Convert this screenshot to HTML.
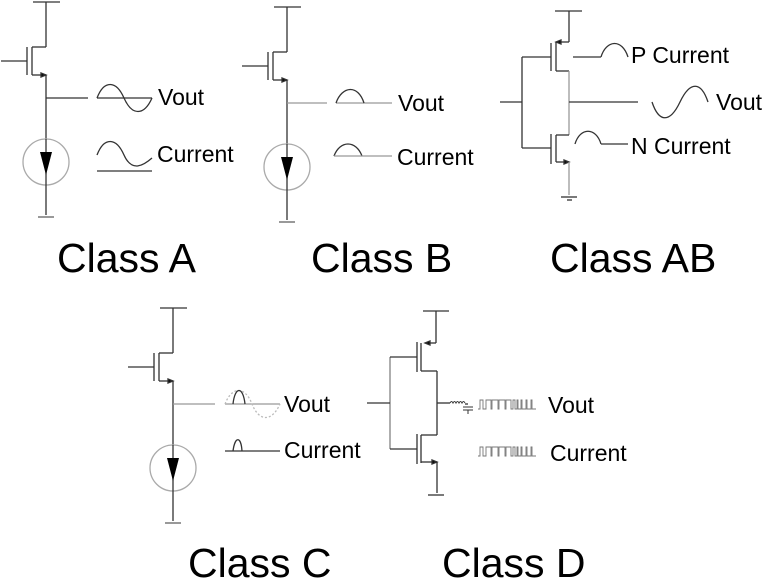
<!DOCTYPE html>
<html><head><meta charset="utf-8"><style>
html,body{margin:0;padding:0;background:#fff;}
svg{display:block;}
text{font-family:"Liberation Sans",sans-serif;fill:#000;}
</style></head><body>
<svg width="762" height="580" viewBox="0 0 762 580" xmlns="http://www.w3.org/2000/svg">
<defs>
<g id="nmos" stroke="#333" stroke-width="1.3" fill="none">
 <line x1="-13" y1="-45" x2="14" y2="-45"/>
 <line x1="0" y1="-45" x2="0" y2="0"/>
 <line x1="-14" y1="0" x2="0" y2="0"/>
 <line x1="-14" y1="0" x2="-14" y2="28"/>
 <line x1="-19" y1="0" x2="-19" y2="28"/>
 <line x1="-45" y1="14" x2="-19" y2="14"/>
 <line x1="-14" y1="28" x2="0" y2="28"/>
 <polygon points="0,28 -5,26 -5,30" fill="#000"/>
 <line x1="0" y1="28" x2="0" y2="92"/>
 <circle cx="0" cy="115" r="23" stroke="#aaa"/>
 <line x1="0" y1="92" x2="0" y2="138"/>
 <polygon points="-6,105 6,105 0,128" fill="#000" stroke="none"/>
 <line x1="0" y1="138" x2="0" y2="168"/>
 <line x1="-8" y1="170" x2="8" y2="170" stroke="#999" stroke-width="2"/>
</g>
</defs>

<!-- Class A -->
<use href="#nmos" x="46" y="47"/>
<g stroke="#333" stroke-width="1.3" fill="none">
 <line x1="46" y1="98" x2="88" y2="98"/>
 <line x1="97" y1="98" x2="152" y2="98"/>
 <path d="M97,98 C104,80 116,80 124,98 C132,116 144,116 152,98"/>
 <path d="M97,155 C104,137 116,137 124,155 C132,173 144,165 152,158"/>
 <line x1="97" y1="171" x2="152" y2="171"/>
</g>
<text x="158" y="105" font-size="23">Vout</text>
<text x="157" y="162" font-size="23">Current</text>
<text x="57" y="272" font-size="41">Class A</text>

<!-- Class B -->
<use href="#nmos" x="287" y="52"/>
<g stroke="#333" stroke-width="1.3" fill="none">
 <line x1="287" y1="103" x2="327" y2="103" stroke="#999"/>
 <line x1="336" y1="103" x2="392" y2="103" stroke="#999"/>
 <path d="M336,103 C342,86 358,84 364,103"/>
 <path d="M334,156 C340,140 356,140 362,156"/>
 <line x1="334" y1="156" x2="392" y2="156" stroke="#999"/>
</g>
<text x="398" y="111" font-size="23">Vout</text>
<text x="397" y="165" font-size="23">Current</text>
<text x="311" y="272" font-size="41">Class B</text>

<!-- Class AB -->
<g stroke="#333" stroke-width="1.3" fill="none">
 <line x1="555" y1="11" x2="582" y2="11"/>
 <line x1="569" y1="11" x2="569" y2="42"/>
 <line x1="557" y1="42" x2="569" y2="42"/>
 <polygon points="556,42 561,40 561,44" fill="#000"/>
 <line x1="556" y1="42" x2="556" y2="71"/>
 <line x1="551" y1="43" x2="551" y2="71"/>
 <line x1="556" y1="71" x2="569" y2="71"/>
 <line x1="569" y1="71" x2="569" y2="135" stroke="#999"/>
 <line x1="569" y1="102" x2="638" y2="102"/>
 <path d="M652,102 C659,123 670,123 680,102 C690,81 701,81 708,102"/>
 <line x1="556" y1="135" x2="569" y2="135"/>
 <line x1="556" y1="135" x2="556" y2="162"/>
 <line x1="551" y1="134" x2="551" y2="164"/>
 <line x1="556" y1="162" x2="569" y2="162"/>
 <polygon points="569,162 564,160 564,164" fill="#000"/>
 <line x1="569" y1="162" x2="569" y2="195" stroke="#999"/>
 <line x1="561" y1="197" x2="577" y2="197"/>
 <line x1="567" y1="200" x2="572" y2="200"/>
 <line x1="522" y1="57" x2="522" y2="148"/>
 <line x1="522" y1="57" x2="551" y2="57"/>
 <line x1="522" y1="148" x2="551" y2="148"/>
 <line x1="500" y1="102" x2="522" y2="102"/>
 <line x1="573" y1="57" x2="601" y2="57"/>
 <path d="M601,57 C606,40 622,38 628,57"/>
 <path d="M575,144 C580,127 596,127 601,144"/>
 <line x1="601" y1="144" x2="628" y2="144"/>
</g>
<text x="631" y="63" font-size="23">P Current</text>
<text x="716" y="110" font-size="23">Vout</text>
<text x="631" y="154" font-size="23">N Current</text>
<text x="550" y="272" font-size="41">Class AB</text>

<!-- Class C -->
<use href="#nmos" x="173" y="353"/>
<g stroke="#333" stroke-width="1.3" fill="none">
 <line x1="173" y1="404" x2="215" y2="404" stroke="#999"/>
 <line x1="225" y1="404" x2="280" y2="404" stroke="#999"/>
 <path d="M225,404 C232,386 245,386 252,404 C259,422 272,422 280,404" stroke="#bbb" stroke-dasharray="2,2"/>
 <path d="M233,404 C235,386 243,386 245,404"/>
 <line x1="225" y1="451" x2="280" y2="451"/>
 <path d="M233,451 C235,436 241,436 242,451"/>
</g>
<text x="284" y="412" font-size="23">Vout</text>
<text x="284" y="458" font-size="23">Current</text>
<text x="188" y="577" font-size="41">Class C</text>

<!-- Class D -->
<g stroke="#333" stroke-width="1.3" fill="none">
 <line x1="423" y1="311" x2="449" y2="311"/>
 <line x1="436" y1="311" x2="436" y2="343"/>
 <line x1="426" y1="343" x2="436" y2="343"/>
 <polygon points="425,343 430,341 430,345" fill="#000"/>
 <line x1="421" y1="343" x2="421" y2="371"/>
 <line x1="417" y1="342" x2="417" y2="372"/>
 <line x1="421" y1="371" x2="437" y2="371"/>
 <line x1="437" y1="371" x2="437" y2="435"/>
 <line x1="421" y1="435" x2="437" y2="435"/>
 <line x1="421" y1="435" x2="421" y2="463"/>
 <line x1="417" y1="434" x2="417" y2="464"/>
 <line x1="421" y1="462" x2="437" y2="462"/>
 <polygon points="437,462 432,460 432,464" fill="#000"/>
 <line x1="437" y1="462" x2="437" y2="493"/>
 <line x1="428" y1="495" x2="444" y2="495"/>
 <line x1="390" y1="357" x2="390" y2="449" stroke="#999" stroke-width="1.6"/>
 <line x1="390" y1="357" x2="417" y2="357"/>
 <line x1="390" y1="449" x2="417" y2="449"/>
 <line x1="367" y1="403" x2="390" y2="403"/>
 <line x1="437" y1="403" x2="450" y2="403"/>
 <path d="M450,403 q1.5,-3 3,0 q1.5,-3 3,0 q1.5,-3 3,0 q1.5,-3 3,0 q1.5,-3 3,0" stroke-width="1"/>
 <line x1="465" y1="404" x2="468" y2="404"/>
 <line x1="463" y1="407" x2="473" y2="407" stroke-width="1"/>
 <line x1="463" y1="410" x2="473" y2="410" stroke-width="1"/>
 <line x1="468" y1="410" x2="468" y2="414" stroke-width="1"/>
 <path d="M478,409 h2 v-9 h3 v9 h3 v-9 h5 v9 h1 v-9 h6 v9 h1 v-9 h6 v9 h1 v-9 h5 v9 h2 v-9 h2 v9 h2 v-9 h1 v9 h3 v-9 h1 v9 h4 v-9 h1 v9 h4 v-9 h1 v9 h4" stroke="#777" stroke-width="0.9"/>
 <path d="M478,456 h2 v-9 h3 v9 h3 v-9 h5 v9 h1 v-9 h6 v9 h1 v-9 h6 v9 h1 v-9 h5 v9 h2 v-9 h2 v9 h2 v-9 h1 v9 h3 v-9 h1 v9 h4 v-9 h1 v9 h4 v-9 h1 v9 h4" stroke="#777" stroke-width="0.9"/>
</g>
<text x="548" y="413" font-size="23">Vout</text>
<text x="550" y="461" font-size="23">Current</text>
<text x="442" y="577" font-size="41">Class D</text>
</svg>
</body></html>
